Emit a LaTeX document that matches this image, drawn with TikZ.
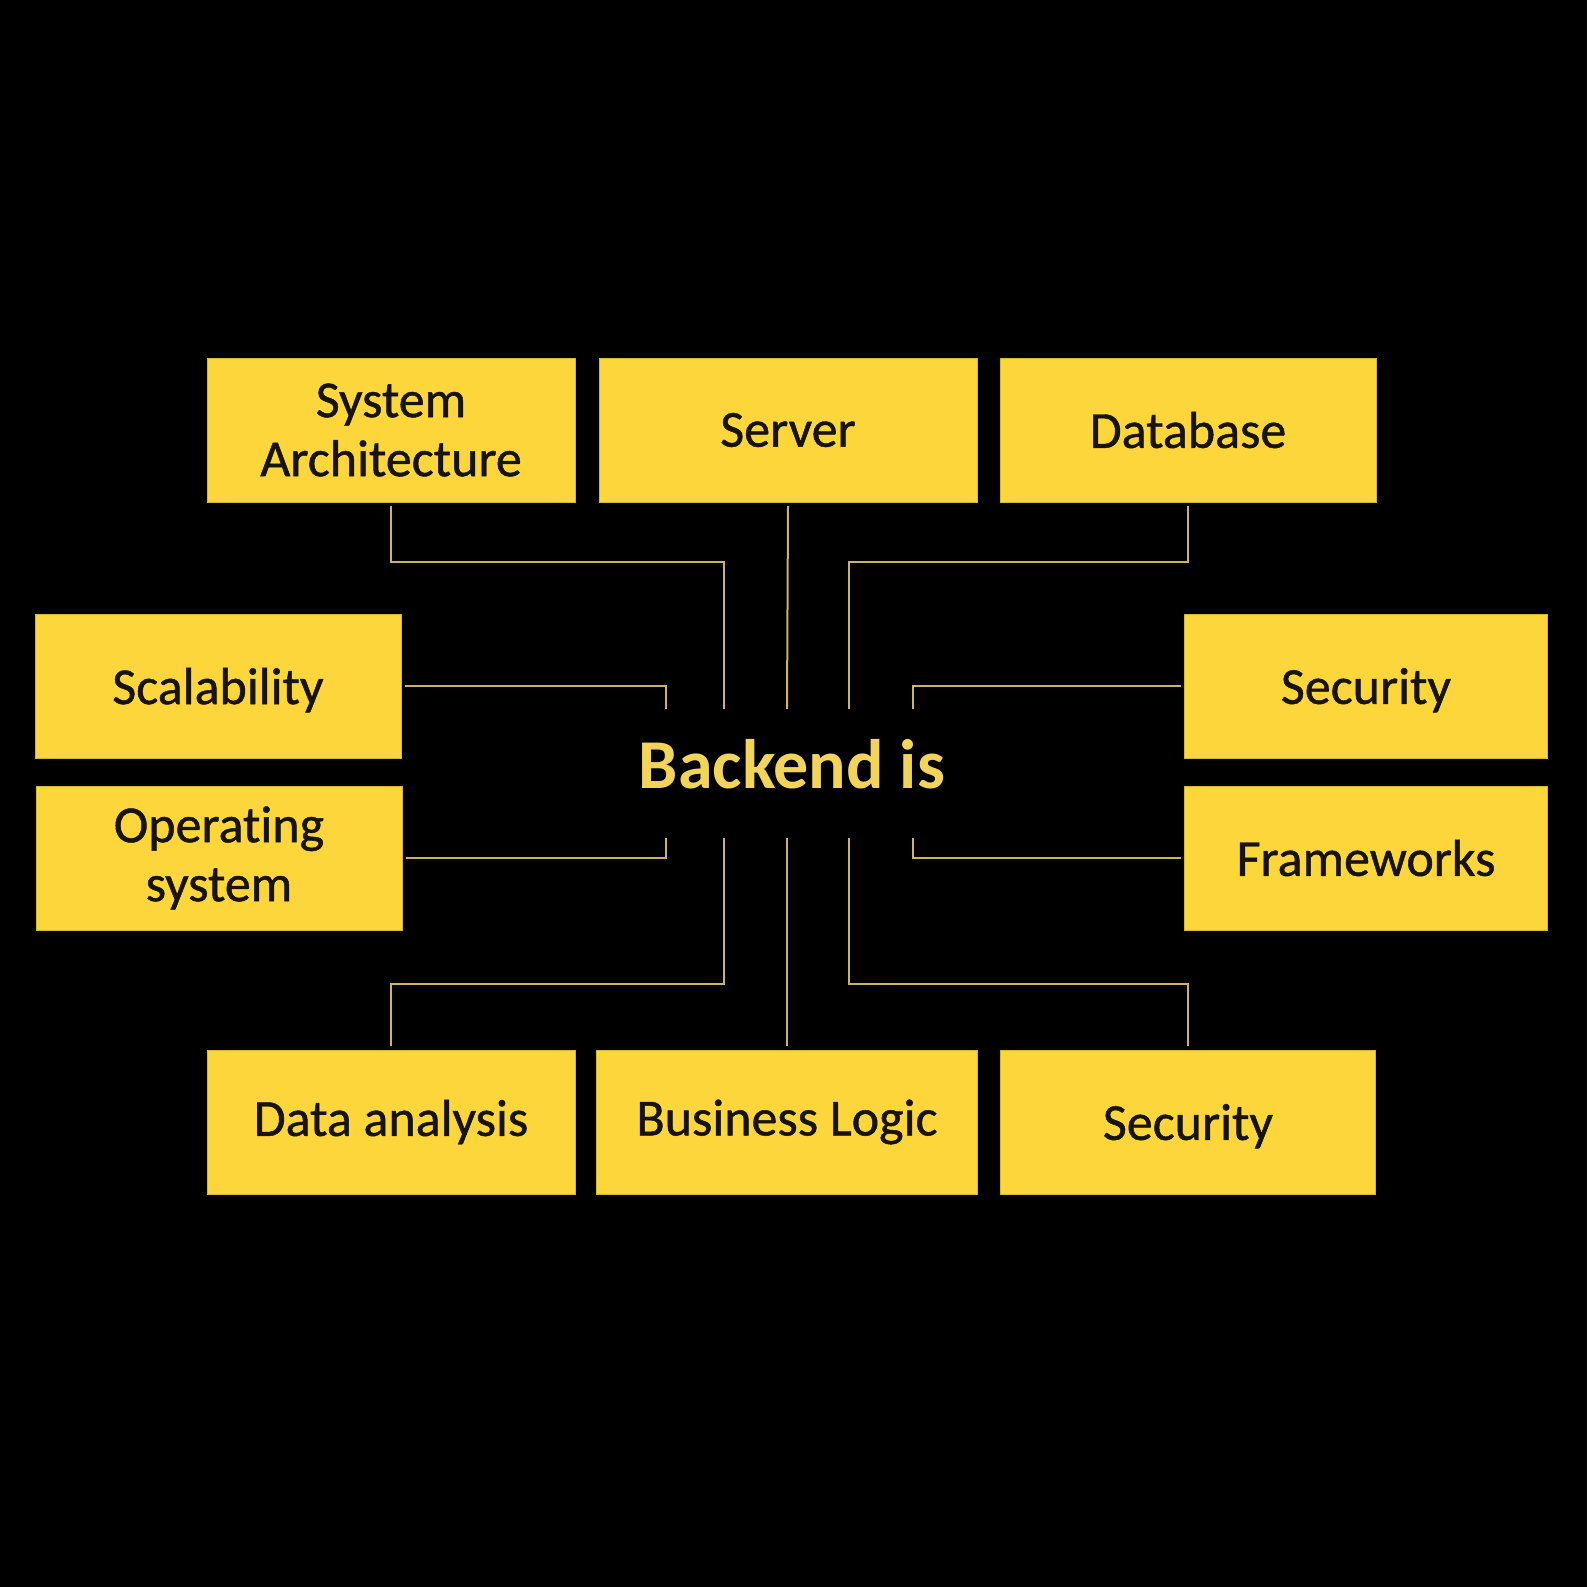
\documentclass[tikz,border=0pt]{standalone}
\usepackage{fontspec}
\setmainfont{Carlito}[Ligatures=NoCommon]
\newfontfamily\boxfont{Carlito}[Ligatures=NoCommon, FakeBold=0.9]
\usepackage{tikz}
\usetikzlibrary{positioning,calc}

\definecolor{boxyellow}{RGB}{252,214,58}
\definecolor{linktan}{RGB}{204,180,100}
\definecolor{titleyellow}{RGB}{242,212,90}
\definecolor{boxtext}{RGB}{22,20,12}

\begin{document}
\begin{tikzpicture}[x=1pt, y=-1pt,
    box/.style={rectangle, draw=boxyellow!85!black, line width=1pt, fill=boxyellow, minimum width=368pt, minimum height=144pt, align=center, text=boxtext, font=\boxfont\fontsize{52}{59}\selectfont, inner sep=0pt, outer sep=4pt},
    title/.style={text=titleyellow, font=\fontsize{70}{80}\selectfont\bfseries, inner sep=0pt},
    link/.style={draw=linktan, line width=2pt}]

% Background
\fill[black] (0,0) rectangle (1587,1587);

% Centre text
\node[title, anchor=base] (backend) at (792,788) {Backend is};

% Top row
\node[box] (top_arch) at (391,430) {System\\Architecture};
\node[box, minimum width=378pt] (top_server) at (788,430) {Server};
\node[box, minimum width=376pt] (top_db) at (1188,430) {Database};

% Left column
\node[box, minimum width=366pt, text depth=0pt] (left_scal) at (218,686) {Scalability};
\node[box, minimum width=366pt] (left_os) at (219,858) {Operating\\system};

% Right column
\node[box, minimum width=363pt, text depth=0pt] (right_sec) at (1366,686) {Security};
\node[box, minimum width=363pt] (right_fw) at (1366,858) {Frameworks};

% Bottom row
\node[box] (bot_data) at (391,1122) {Data analysis};
\node[box, minimum width=381pt] (bot_logic) at (787,1122) {Business Logic};
\node[box, minimum width=375pt, text depth=0pt] (bot_sec) at (1188,1122) {Security};

% Connector ends around the centre text
\coordinate (hub_arch) at (724,709);
\coordinate (hub_server) at (787,709);
\coordinate (hub_db) at (849,709);
\coordinate (hub_scal) at (666,709);
\coordinate (hub_sec) at (913,709);
\coordinate (hub_os) at (666,838);
\coordinate (hub_fw) at (913,838);
\coordinate (hub_data) at (724,838);
\coordinate (hub_logic) at (787,838);
\coordinate (hub_botsec) at (849,838);

% Connectors
\draw[link] (top_arch.south) -- ++(0,56) -| (hub_arch);
\draw[link] (top_server.south) -- (hub_server);
\draw[link] (top_db.south) -- ++(0,56) -| (hub_db);
\draw[link] (left_scal.east) -| (hub_scal);
\draw[link] (left_os.east) -| (hub_os);
\draw[link] (right_sec.west) -| (hub_sec);
\draw[link] (right_fw.west) -| (hub_fw);
\draw[link] (bot_data.north) -- ++(0,-62) -| (hub_data);
\draw[link] (bot_logic.north) -- (hub_logic);
\draw[link] (bot_sec.north) -- ++(0,-62) -| (hub_botsec);

\end{tikzpicture}
\end{document}
